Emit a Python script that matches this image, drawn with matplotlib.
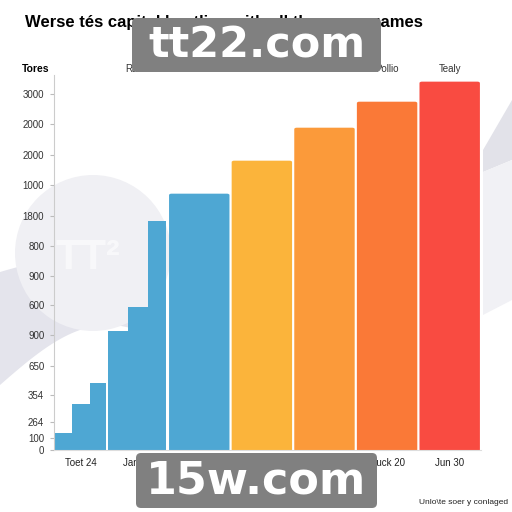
import matplotlib.pyplot as plt
import matplotlib.patches as mpatches
import numpy as np

# Data
step_values = [143, 388, 565, 1003, 1205, 1930]   # the stepped blue part (two groups, three steps each)
bar_values = [2166, 2444, 2722, 2941, 3110]         # the five wide bars
bar_colors = ['#4EA7D3', '#FBB43B', '#FB9A3A', '#FA7937', '#F94B41']
step_color = '#4EA7D3'

x_labels = ['Toet 24', 'Jan 24', '', '', '', 'Buck 20', 'Jun 30']
top_labels = ['', 'Rates', '', '', '', 'Pollio', 'Tealy']
y_ticks = [0, 101, 236, 463, 708, 969, 1222, 1466, 1719, 1972, 2233, 2486, 2747, 3000]
y_tick_labels = ['0', '100', '264', '354', '650', '900', '600', '900', '800',
                 '1800', '1000', '2000', '2000', '3000']

title = 'Werse tés capital bestline with all the mega games'
corner_note = 'Unlo\\te soer y conlaged'

plt.rcParams['font.family'] = ['Liberation Sans', 'DejaVu Sans']

fig = plt.figure(figsize=(5.12, 5.12), dpi=100)
fig.patch.set_facecolor('white')

# faint background decorations (figure pixel coords)
bg = fig.add_axes([0, 0, 1, 1], zorder=0)
bg.set_xlim(0, 512)
bg.set_ylim(512, 0)
bg.axis('off')
t = np.linspace(0, 1, 60)
upper = np.column_stack([t * 130, 272 - 12 * np.sin(t * np.pi)])
lower = np.column_stack([t[::-1] * 130, 385 - 60 * np.sin(t[::-1] * np.pi * 0.6)])
bg.add_patch(mpatches.Polygon(np.vstack([upper, lower]), color='#E4E4EC', lw=0))
bg.add_patch(mpatches.Circle((93, 253), 78, color='#F0F0F4', lw=0))
bg.add_patch(mpatches.Polygon([[483, 150], [512, 100], [512, 160], [483, 172]],
                              color='#E2E2E9', lw=0))
bg.add_patch(mpatches.Polygon([[483, 172], [512, 160], [512, 300], [483, 315]],
                              color='#F1F1F5', lw=0))
bg.text(88, 258, 'TT²', fontsize=30, fontweight='bold', color='white', alpha=0.6,
        ha='center', va='center')

ax = fig.add_axes([54 / 512, 62 / 512, 427 / 512, 375 / 512], zorder=1)
ax.patch.set_alpha(0)

# slot widths: two narrow stepped groups, then five wide bars
slot_w = [0.86, 0.96, 1, 1, 1, 1, 1]
edges = np.concatenate([[0], np.cumsum(slot_w)])
centers = (edges[:-1] + edges[1:]) / 2
gap = 0.035

for s in range(2):
    sub = slot_w[s] / 3
    for k in range(3):
        v = step_values[s * 3 + k]
        w = sub if k < 2 else sub - gap
        ax.bar(edges[s] + k * sub, v, width=w, align='edge', color=step_color, lw=0)
for i, v in enumerate(bar_values):
    s = i + 2
    ax.add_patch(mpatches.FancyBboxPatch((edges[s] + gap / 2 + 0.03, 0), slot_w[s] - gap - 0.06,
                                         v - 15, boxstyle='round,pad=0.03,rounding_size=0.04',
                                         mutation_aspect=300, color=bar_colors[i], lw=0))

ax.set_xlim(0, edges[-1])
ax.set_ylim(0, 3160)
ax.set_xticks(centers)
ax.set_xticklabels(x_labels, fontsize=7, color='#222222')
ax.tick_params(axis='x', length=0, pad=6)
ax.set_yticks(y_ticks)
ax.set_yticklabels(y_tick_labels, fontsize=7, color='#333333')
ax.tick_params(axis='y', length=3, color='#BBBBBB', pad=4)
for sp in ['top', 'right']:
    ax.spines[sp].set_visible(False)
ax.spines['left'].set_color('#CCCCCC')
ax.spines['bottom'].set_color('#DDDDDD')

top = ax.secondary_xaxis('top')
top.set_xticks(centers)
top.set_xticklabels(top_labels, fontsize=7, color='#333333')
top.tick_params(length=0, pad=1)
top.spines['top'].set_visible(False)

fig.text(22 / 512, 1 - 69 / 512, 'Tores', fontsize=7.5, fontweight='bold', va='center')
fig.text(25 / 512, 1 - 22 / 512, title, fontsize=12, fontweight='bold', va='center')
fig.text(508 / 512, 1 - 503 / 512, corner_note, fontsize=6, ha='right', va='center',
         color='#222222')

# watermark boxes
ov = fig.add_axes([0, 0, 1, 1], zorder=5)
ov.set_xlim(0, 512)
ov.set_ylim(512, 0)
ov.axis('off')
for (x0, y0, x1, y1, txt, fs) in [(132, 18, 381, 72, 'tt22.com', 31),
                                  (136, 453, 377, 508, '15w.com', 32)]:
    ov.add_patch(mpatches.FancyBboxPatch((x0 + 5, y0 + 5), x1 - x0 - 10, y1 - y0 - 10,
                                         boxstyle='round,pad=5', color='#808080', lw=0))
    ov.text((x0 + x1) / 2, (y0 + y1) / 2 + 1, txt, fontsize=fs, fontweight='bold',
            color='white', ha='center', va='center', family='DejaVu Sans')

fig.savefig('out.png', dpi=100)
